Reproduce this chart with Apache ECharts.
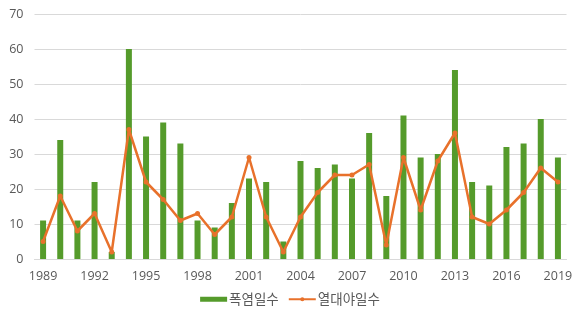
<!DOCTYPE html>
<html>
<head>
<meta charset="utf-8">
<script src="https://cdn.jsdelivr.net/npm/echarts@6/dist/echarts.min.js"></script>
<style>
  html, body { margin: 0; padding: 0; background: #fff; }
  #chart { width: 580px; height: 326px; }
</style>
</head>
<body>
<div id="chart"></div>
<script>
// Years 1989–2019
const years = [];
for (let y = 1989; y <= 2019; y++) years.push(String(y));

// 폭염일수 (heat-wave days)
const heatWaveDays = [11, 34, 11, 22, 2, 60, 35, 39, 33, 11, 9, 16, 23, 22, 5, 28, 26, 27, 23, 36, 18, 41, 29, 30, 54, 22, 21, 32, 33, 40, 29];

// 열대야일수 (tropical-night days)
const tropicalNightDays = [5, 18, 8, 13, 2, 37, 22, 17, 11, 13, 7, 12, 29, 12, 2, 12, 19, 24, 24, 27, 4, 29, 14, 28, 36, 12, 10, 14, 19, 26, 22];

const seriesNames = ['폭염일수', '열대야일수'];

const textColor = '#595959';
const numFont = '"Open Sans", "Noto Sans", sans-serif';
const krFont = '"Noto Sans CJK KR", "Noto Sans", sans-serif';

const chart = echarts.init(document.getElementById('chart'), null, { renderer: 'canvas' });
chart.setOption({
  animation: false,
  textStyle: { fontFamily: numFont },
  grid: { left: 34.5, right: 13.5, top: 14, bottom: 67, containLabel: false },
  legend: {
    bottom: 15,
    left: 'center',
    itemGap: 9,
    itemWidth: 27,
    itemHeight: 5,
    textStyle: { color: textColor, fontSize: 13.5, fontFamily: krFont, padding: [0, 0, 0, -3] },
    data: [
      { name: seriesNames[0], icon: 'rect' },
      { name: seriesNames[1] }
    ]
  },
  xAxis: {
    type: 'category',
    data: years,
    boundaryGap: true,
    axisLine: { show: true, lineStyle: { color: '#d9d9d9' } },
    axisTick: { show: false },
    axisLabel: {
      interval: 2,
      color: textColor,
      fontSize: 12.5,
      margin: 11,
      fontFamily: numFont
    }
  },
  yAxis: {
    type: 'value',
    min: 0,
    max: 70,
    interval: 10,
    axisLine: { show: false },
    axisTick: { show: false },
    splitLine: { lineStyle: { color: '#d9d9d9', width: 1 } },
    axisLabel: { color: textColor, fontSize: 12.5, margin: 11, fontFamily: numFont }
  },
  series: [
    {
      name: seriesNames[0],
      type: 'bar',
      data: heatWaveDays,
      barWidth: 6,
      itemStyle: { color: '#559b2b' }
    },
    {
      name: seriesNames[1],
      type: 'line',
      data: tropicalNightDays,
      symbol: 'circle',
      symbolSize: 5,
      lineStyle: { color: '#e8712b', width: 2.5 },
      itemStyle: { color: '#e8712b' }
    }
  ]
});
</script>
</body>
</html>
